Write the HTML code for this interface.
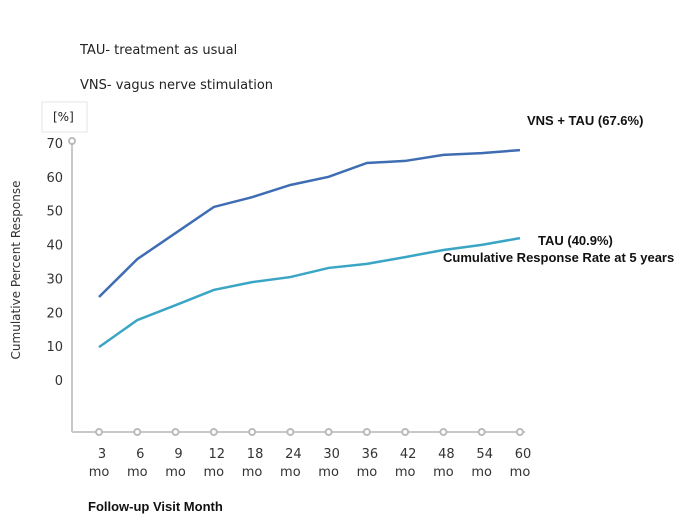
<!DOCTYPE html>
<html><head><meta charset="utf-8"><style>
body{margin:0;background:#fff;width:700px;height:525px;overflow:hidden;font-family:"Liberation Sans",sans-serif}
svg text{font-family:"DejaVu Sans","Liberation Sans",sans-serif}
svg text.b{font-family:"Liberation Sans",sans-serif;font-weight:bold}
</style></head><body>
<svg id="c" width="700" height="525">
<text x="80" y="54" font-size="13" fill="#222">TAU- treatment as usual</text>
<text x="80" y="89" font-size="13" fill="#222">VNS- vagus nerve stimulation</text>
<rect x="42" y="102" width="45" height="30" fill="#fff" stroke="#e4e4e4"/>
<text x="53" y="121" font-size="12" fill="#222">[%]</text>
<text transform="translate(20,270) rotate(-90)" text-anchor="middle" font-size="12" fill="#333">Cumulative Percent Response</text>
<text class="b" x="88" y="511" font-size="13" fill="#111">Follow-up Visit Month</text>
<text class="b" x="527" y="125" font-size="13" fill="#111">VNS + TAU (67.6%)</text>
<text class="b" x="538" y="245" font-size="13" fill="#111">TAU (40.9%)</text>
<text class="b" x="443" y="262" font-size="13" fill="#111">Cumulative Response Rate at 5 years</text>
<g id="g"></g>
</svg>
<script>
const categories=["3","6","9","12","18","24","30","36","42","48","54","60"];
const vnsValues=[24.5,35.7,43.4,51.1,54.0,57.6,60.0,64.1,64.7,66.5,67.0,67.9];
const tauValues=[9.7,17.7,22.1,26.6,28.9,30.4,33.1,34.3,36.3,38.4,39.9,41.9];
const yTicks=[0,10,20,30,40,50,60,70];
const NS="http://www.w3.org/2000/svg";
const g=document.getElementById('g');
const X=i=>99+i*38.27;
const Y=v=>380-v*3.386;
function mk(t,a){const e=document.createElementNS(NS,t);for(const k in a)e.setAttribute(k,a[k]);g.appendChild(e);return e;}
const ya=mk('line',{x1:72,y1:143,x2:72,y2:432,stroke:'#c8c8c8','stroke-width':2});


const xa=mk('line',{x1:72,y1:432,x2:525,y2:432,stroke:'#c8c8c8','stroke-width':2});


const tc=mk('circle',{cx:72,cy:141,r:3,fill:'#fff',stroke:'#bbb','stroke-width':2});


yTicks.forEach(v=>{const t=mk('text',{x:63,y:Y(v)+5,'text-anchor':'end','font-size':13,fill:'#333'});t.textContent=v;

});
categories.forEach((c,i)=>{
const m=mk('circle',{cx:X(i),cy:432,r:3,fill:'#fff',stroke:'#bbb','stroke-width':2});


const t=mk('text',{x:X(i)+3,y:458,'text-anchor':'middle','font-size':13,fill:'#333'});t.textContent=c;


const t2=mk('text',{x:X(i),y:476,'text-anchor':'middle','font-size':13,fill:'#333'});t2.textContent='mo';

});
function line(vals,col,name){const p=mk('polyline',{points:vals.map((v,i)=>X(i)+','+Y(v)).join(' '),fill:'none',stroke:col,'stroke-width':2.5});

}
line(vnsValues,'#3f6db3','vns-tau-line');
line(tauValues,'#3aa5c4','tau-line');
</script>
</body></html>
